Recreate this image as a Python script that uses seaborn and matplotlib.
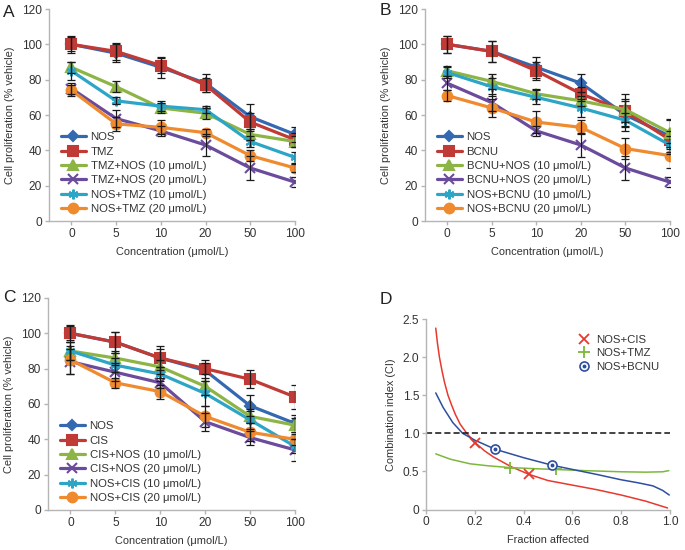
import numpy as np
import pandas as pd
import seaborn as sns
import matplotlib.pyplot as plt

# ---- data ----
CONC = ["0", "5", "10", "20", "50", "100"]

# Panel A: TMZ
A_LABELS = ["NOS", "TMZ", "TMZ+NOS (10 μmol/L)", "TMZ+NOS (20 μmol/L)",
            "NOS+TMZ (10 μmol/L)", "NOS+TMZ (20 μmol/L)"]
A_NOS = [100, 95, 87, 78, 59, 49]
A_DRUG = [100, 96, 88, 77, 56, 46]
A_D_N10 = [87, 76, 64, 61, 49, 45]
A_D_N20 = [75, 58, 51, 43, 30, 22]
A_N_D10 = [85, 68, 65, 63, 45, 36]
A_N_D20 = [74, 55, 53, 50, 37, 30]
A_ERR = [[5, 5, 6, 5, 7, 4], [4, 5, 4, 4, 5, 4], [3, 3, 3, 3, 3, 3],
         [3, 5, 3, 6, 7, 3], [5, 2, 3, 2, 3, 3], [3, 4, 4, 2, 3, 2]]

# Panel B: BCNU
B_LABELS = ["NOS", "BCNU", "BCNU+NOS (10 μmol/L)", "BCNU+NOS (20 μmol/L)",
            "NOS+BCNU (10 μmol/L)", "NOS+BCNU (20 μmol/L)"]
B_NOS = [100, 96, 87, 78, 60, 48]
B_DRUG = [100, 96, 85, 72, 62, 46]
B_D_N10 = [85, 79, 72, 68, 63, 50]
B_D_N20 = [78, 67, 51, 43, 30, 22]
B_N_D10 = [84, 76, 70, 64, 57, 43]
B_N_D20 = [71, 64, 56, 53, 41, 37]
B_ERR = [[5, 6, 6, 5, 9, 9], [5, 6, 5, 4, 6, 5], [3, 4, 3, 3, 9, 8],
         [4, 5, 3, 7, 7, 3], [3, 5, 4, 5, 4, 5], [3, 5, 6, 4, 6, 7]]

# Panel C: CIS
C_LABELS = ["NOS", "CIS", "CIS+NOS (10 μmol/L)", "CIS+NOS (20 μmol/L)",
            "NOS+CIS (10 μmol/L)", "NOS+CIS (20 μmol/L)"]
C_NOS = [100, 95, 86, 79, 59, 49]
C_DRUG = [100, 95, 86, 80, 74, 64]
C_D_N10 = [90, 86, 81, 70, 53, 48]
C_D_N20 = [84, 78, 72, 50, 41, 34]
C_N_D10 = [90, 82, 77, 66, 51, 36]
C_N_D20 = [85, 72, 67, 53, 44, 40]
C_ERR = [[5, 6, 7, 6, 6, 5], [4, 6, 5, 3, 5, 7], [5, 4, 4, 5, 4, 4],
         [7, 5, 3, 5, 4, 6], [5, 4, 4, 7, 5, 4], [8, 3, 4, 6, 5, 3]]

# Panel D: combination index curves
CIS_FA = [0.04, 0.047, 0.055, 0.065, 0.075, 0.09, 0.105, 0.12, 0.14, 0.167,
          0.2, 0.24, 0.276, 0.35, 0.423, 0.5, 0.6, 0.7, 0.8, 0.9, 0.99]
CIS_CI = [2.38, 2.18, 2.0, 1.83, 1.68, 1.5, 1.37, 1.25, 1.12, 1.0,
          0.88, 0.77, 0.69, 0.56, 0.46, 0.38, 0.32, 0.26, 0.19, 0.11, 0.02]
TMZ_FA = [0.04, 0.1, 0.18, 0.25, 0.344, 0.45, 0.533, 0.65, 0.8, 0.9, 0.97, 0.995]
TMZ_CI = [0.73, 0.66, 0.60, 0.575, 0.55, 0.535, 0.525, 0.51, 0.495, 0.49, 0.495, 0.51]
BCNU_FA = [0.04, 0.07, 0.11, 0.15, 0.2, 0.284, 0.4, 0.518, 0.624, 0.7, 0.8,
           0.87, 0.93, 0.97, 0.997]
BCNU_CI = [1.53, 1.34, 1.14, 1.0, 0.91, 0.79, 0.68, 0.58, 0.51, 0.46, 0.39,
           0.35, 0.31, 0.25, 0.19]
CIS_PTS_FA = [0.20, 0.423]
CIS_PTS_CI = [0.87, 0.46]
TMZ_PTS_FA = [0.344, 0.533]
TMZ_PTS_CI = [0.55, 0.525]
BCNU_PTS_FA = [0.284, 0.518]
BCNU_PTS_CI = [0.79, 0.58]
D_YTICKS = [0, 0.5, 1.0, 1.5, 2.0, 2.5]
D_YLABELS = ["0", "0.5", "1.0", "1.5", "2.0", "2.5"]
D_XTICKS = [0, 0.2, 0.4, 0.6, 0.8, 1.0]
D_XLABELS = ["0", "0.2", "0.4", "0.6", "0.8", "1.0"]

# ---- styling ----
COLORS = ["#3468B0", "#C03A36", "#8DB545", "#6B4B9B", "#2CA5C6", "#F08A2E"]
MARKERS = ["D", "s", "^", "x", (6, 2, 0), "o"]
MSIZES = [5, 7, 6.5, 6.5, 7, 7]
SPINE = "#b5b5b5"
TXT = "#333333"
FS_TICK = 8.6
FS_LAB = 7.9
FS_LEG = 8.2
FS_LETTER = 12.5

sns.set_theme(style="ticks")
plt.rcParams["font.family"] = ["Liberation Sans", "DejaVu Sans"]

W, H = 685, 550
fig = plt.figure(figsize=(W / 100, H / 100), dpi=100)


def px_axes(left, top, right, bottom):
    return fig.add_axes([left / W, 1 - bottom / H, (right - left) / W, (bottom - top) / H])


def style_axes(ax):
    for s in ["top", "right"]:
        ax.spines[s].set_visible(False)
    for s in ["left", "bottom"]:
        ax.spines[s].set_color(SPINE)
        ax.spines[s].set_linewidth(1.0)
    ax.tick_params(axis="both", colors=SPINE, labelcolor=TXT, labelsize=FS_TICK,
                   length=3, width=1.0, pad=2)


def dose_panel(ax, series, labels, errs, letter, lx, ly):
    pos = np.arange(len(CONC))
    for i, (vals, lab) in enumerate(zip(series, labels)):
        ax.errorbar(pos, vals, yerr=errs[i], fmt="none", ecolor="#1a1a1a",
                    elinewidth=0.9, capsize=2.6, capthick=0.9, zorder=4)
        sns.lineplot(x=pos, y=vals, ax=ax, color=COLORS[i], marker=MARKERS[i],
                     markersize=MSIZES[i], markeredgecolor=COLORS[i],
                     markeredgewidth=1.5, linewidth=2.3, label=lab, zorder=3)
    ax.set_xlim(-0.5, 5)
    ax.set_ylim(0, 120)
    ax.set_yticks(range(0, 121, 20))
    ax.set_xticks(pos)
    ax.set_xticklabels(CONC)
    ax.set_xlabel("Concentration (μmol/L)", fontsize=FS_LAB, color=TXT, labelpad=5)
    ax.set_ylabel("Cell proliferation (% vehicle)", fontsize=FS_LAB, color=TXT, labelpad=5)
    style_axes(ax)
    ax.legend(loc="upper left", bbox_to_anchor=(0.03, 0.44), frameon=False,
              fontsize=FS_LEG, handlelength=2.2, handletextpad=0.4,
              labelspacing=0.38, borderaxespad=0, labelcolor=TXT)
    ax.text(lx, ly, letter, transform=ax.transAxes, fontsize=FS_LETTER,
            color="#222222", va="center", ha="left")


axA = px_axes(49, 9, 295, 221)
dose_panel(axA, [A_NOS, A_DRUG, A_D_N10, A_D_N20, A_N_D10, A_N_D20], A_LABELS, A_ERR,
           "A", -0.187, 0.985)
axB = px_axes(425, 9, 670, 221)
dose_panel(axB, [B_NOS, B_DRUG, B_D_N10, B_D_N20, B_N_D10, B_N_D20], B_LABELS, B_ERR,
           "B", -0.184, 0.995)
axC = px_axes(48, 298, 295, 510)
dose_panel(axC, [C_NOS, C_DRUG, C_D_N10, C_D_N20, C_N_D10, C_N_D20], C_LABELS, C_ERR,
           "C", -0.182, 1.0)

# ---- panel D ----
axD = px_axes(426, 319, 670, 509.5)
red, green, blue = "#E8392E", "#7DB83A", "#2E4F9E"
sns.lineplot(x=CIS_FA, y=CIS_CI, ax=axD, color=red, linewidth=1.1, legend=False)
sns.lineplot(x=TMZ_FA, y=TMZ_CI, ax=axD, color=green, linewidth=1.1, legend=False)
sns.lineplot(x=BCNU_FA, y=BCNU_CI, ax=axD, color=blue, linewidth=1.1, legend=False)
axD.axhline(1.0, color="#111111", linestyle=(0, (4, 2)), linewidth=1.1)

h1, = axD.plot(CIS_PTS_FA, CIS_PTS_CI, linestyle="none", marker="x", color=red,
               markersize=7, markeredgewidth=1.3)
h2, = axD.plot(TMZ_PTS_FA, TMZ_PTS_CI, linestyle="none", marker="+", color=green,
               markersize=8, markeredgewidth=1.3)
h3a, = axD.plot(BCNU_PTS_FA, BCNU_PTS_CI, linestyle="none", marker="o", color=blue,
                markerfacecolor="white", markersize=6.5, markeredgewidth=1.2)
h3b, = axD.plot(BCNU_PTS_FA, BCNU_PTS_CI, linestyle="none", marker="o", color=blue,
                markersize=1.8)
axD.legend([h1, h2, (h3a, h3b)], ["NOS+CIS", "NOS+TMZ", "NOS+BCNU"],
           loc="upper left", bbox_to_anchor=(0.6, 0.94), frameon=False,
           fontsize=FS_LEG, handlelength=1.2, handletextpad=0.5, labelspacing=0.3,
           borderaxespad=0, labelcolor=TXT)
axD.set_xlim(0, 1.0)
axD.set_ylim(0, 2.5)
axD.set_xticks(D_XTICKS)
axD.set_xticklabels(D_XLABELS)
axD.set_yticks(D_YTICKS)
axD.set_yticklabels(D_YLABELS)
axD.set_xlabel("Fraction affected", fontsize=FS_LAB, color=TXT, labelpad=5)
axD.set_ylabel("Combination index (CI)", fontsize=FS_LAB, color=TXT, labelpad=5)
style_axes(axD)
axD.text(-0.189, 1.1, "D", transform=axD.transAxes, fontsize=FS_LETTER,
         color="#222222", va="center", ha="left")

fig.savefig("out.png", dpi=100, facecolor="white")
